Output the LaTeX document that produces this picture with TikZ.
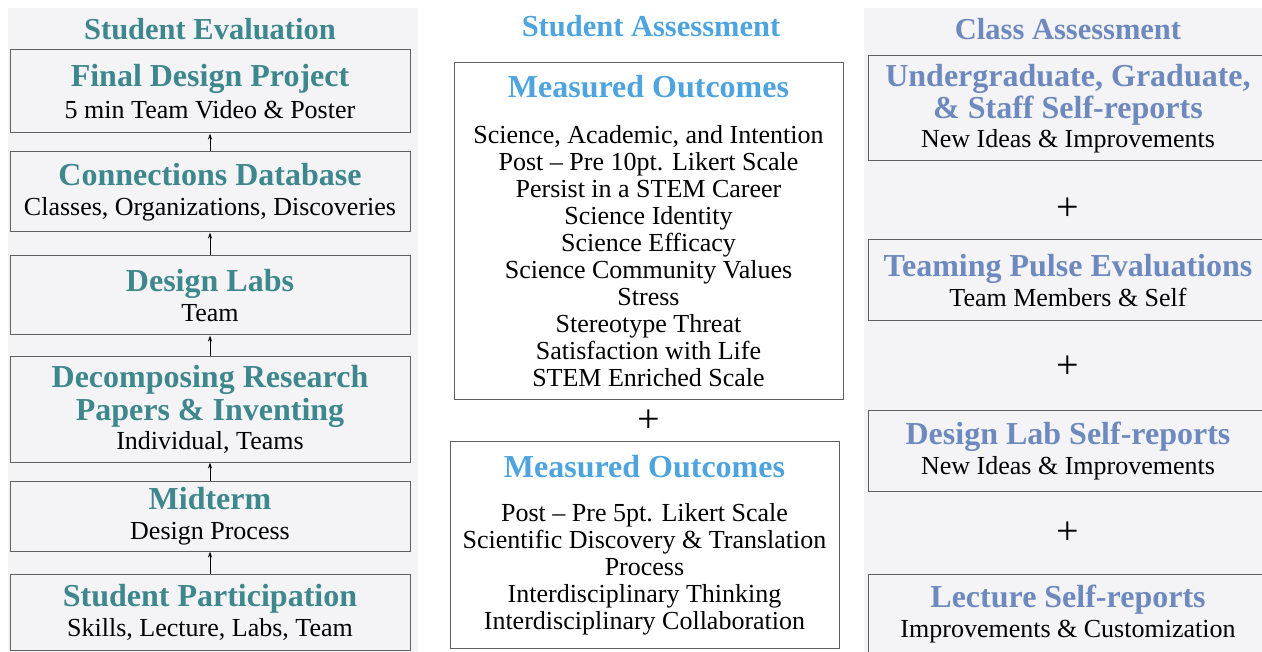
\documentclass[tikz,border=0pt]{standalone}
\usepackage{fontspec}
\setmainfont{Liberation Serif}[BoldFont={Liberation Serif Bold}]
\usetikzlibrary{positioning,arrows.meta}

\definecolor{evalteal}{RGB}{62,135,140}
\definecolor{studblue}{RGB}{78,164,222}
\definecolor{classblue}{RGB}{110,137,190}
\definecolor{panelgray}{RGB}{244,244,247}
\definecolor{boxline}{RGB}{95,95,95}

\tikzset{
	headfont/.style={font=\fontsize{30.5}{30}\selectfont\bfseries},
	evalbox/.style={draw=boxline, fill=panelgray, line width=1pt, minimum width=400pt, align=center, inner sep=0pt, font=\fontsize{26}{27}\selectfont},
	outbox/.style={draw=boxline, fill=white, line width=1pt, minimum width=389pt, align=center, inner sep=0pt, font=\fontsize{26}{27}\selectfont},
	classbox/.style={draw=boxline, fill=panelgray, line width=1pt, minimum width=400pt, align=center, inner sep=0pt, font=\fontsize{26}{27}\selectfont},
	uparrow/.style={-{Stealth[length=6pt,width=4pt]}, line width=1pt},
	plus/.style={font=\fontsize{40}{40}\selectfont}
}
\newcommand{\evtitle}[1]{{\fontsize{32}{30}\selectfont\bfseries\color{evalteal}#1}}
\newcommand{\sttitle}[1]{{\fontsize{32}{30}\selectfont\bfseries\color{studblue}#1}}
\newcommand{\cltitle}[1]{{\fontsize{32}{30}\selectfont\bfseries\color{classblue}#1}}

\begin{document}
\begin{tikzpicture}[x=1pt, y=-1pt]
	\useasboundingbox (0,0) rectangle (1262,652);
	% panels
	\fill[panelgray] (8,8) rectangle (418,652);
	\fill[panelgray] (864,8) rectangle (1262,652);

	% Student Evaluation
	\node[headfont, text=evalteal] (evalhead)at(210, 29) {Student Evaluation};
	\node[evalbox, minimum height=83pt] (final)at(210, 91.5) {\evtitle{Final Design Project}\\[5pt]5 min Team Video \& Poster};
	\node[evalbox, minimum height=80pt] (connect)at(210, 192) {\evtitle{Connections Database}\\[3pt]Classes, Organizations, Discoveries};
	\node[evalbox, minimum height=79pt] (labs)at(210, 295.5) {\evtitle{Design Labs}\\[3pt]Team};
	\node[evalbox, minimum height=105pt] (decomp)at(210, 409.5) {\evtitle{Decomposing Research}\\[2pt]\evtitle{Papers \& Inventing}\\[2pt]Individual, Teams};
	\node[evalbox, minimum height=70pt] (midterm)at(210, 516) {\evtitle{Midterm}\\[3pt]Design Process};
	\node[evalbox, minimum height=76pt] (particip)at(210, 612) {\evtitle{Student Participation}\\[3pt]Skills, Lecture, Labs, Team};

	\draw[uparrow] (connect.north) -- (final.south);
	\draw[uparrow] (labs.north) -- (connect.south);
	\draw[uparrow] (decomp.north) -- (labs.south);
	\draw[uparrow] (midterm.north) -- (decomp.south);
	\draw[uparrow] (particip.north) -- (midterm.south);

	% Student Assessment
	\node[headfont, text=studblue] (studhead)at(651, 26) {Student Assessment};
	\node[outbox, minimum height=337pt] (outA)at(648.5, 231.5) {\sttitle{Measured Outcomes}\\[19pt]Science, Academic, and Intention\\Post -- Pre 10pt. Likert Scale\\Persist in a STEM Career\\Science Identity\\Science Efficacy\\Science Community Values\\Stress\\Stereotype Threat\\Satisfaction with Life\\STEM Enriched Scale};
	\node[plus] (plusA)at(649, 421) {+};
	\node[outbox, minimum height=206pt] (outB)at(644.5, 545) {\sttitle{Measured Outcomes}\\[17pt]Post -- Pre 5pt. Likert Scale\\Scientific Discovery \& Translation\\Process\\Interdisciplinary Thinking\\Interdisciplinary Collaboration};

	% Class Assessment
	\node[headfont, text=classblue] (classhead)at(1068, 29) {Class Assessment};
	\node[classbox, minimum height=105pt] (selfrep)at(1068, 108.5) {\cltitle{Undergraduate, Graduate,}\\[1pt]\cltitle{\& Staff Self-reports}\\[2pt]New Ideas \& Improvements};
	\node[plus] (plusB)at(1068, 209) {+};
	\node[classbox, minimum height=81pt] (pulse)at(1068, 280.5) {\cltitle{Teaming Pulse Evaluations}\\[3pt]Team Members \& Self};
	\node[plus] (plusC)at(1068, 367) {+};
	\node[classbox, minimum height=80pt] (labrep)at(1068, 451) {\cltitle{Design Lab Self-reports}\\[3pt]New Ideas \& Improvements};
	\node[plus] (plusD)at(1068, 533) {+};
	\node[classbox, minimum height=80pt] (lectrep)at(1068, 614) {\cltitle{Lecture Self-reports}\\[3pt]Improvements \& Customization};
\end{tikzpicture}
\end{document}
